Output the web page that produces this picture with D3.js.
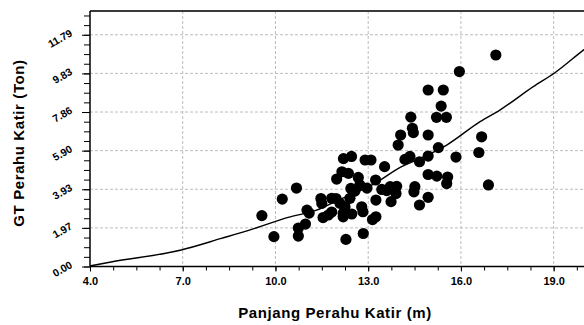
<!DOCTYPE html>
<html>
<head>
<meta charset="utf-8">
<script src="https://cdn.jsdelivr.net/npm/d3@7"></script>
<style>
  html, body { margin: 0; background: #fff; overflow: hidden; }
  svg { display: block; font-family: "Liberation Sans", Arial, sans-serif; }
</style>
</head>
<body>
<svg id="chart" width="584" height="325"></svg>
<script>
// Panjang perahu (m) vs GT (ton)
const lengthM = [17.13, 15.95, 14.94, 15.43, 15.36, 15.21, 15.53, 14.38, 14.43, 14.46,
  14.05, 13.97, 14.94, 15.27, 14.94, 14.66, 14.35, 14.19, 15.84, 16.67,
  16.58, 14.94, 15.22, 15.57, 15.54, 14.51, 14.48, 14.94, 14.66, 16.89,
  13.92, 13.71, 13.60, 13.44, 13.90, 13.74, 13.25, 13.53, 13.24, 12.90,
  13.09, 12.20, 12.46, 12.15, 12.36, 11.98, 12.68, 12.73, 12.96, 12.44,
  12.57, 12.41, 11.96, 12.09, 12.25, 12.19, 12.79, 12.83, 12.47, 12.19,
  11.82, 11.71, 11.54, 11.47, 11.50, 11.82, 11.02, 11.09, 10.68, 10.22,
  9.56, 10.97, 10.74, 10.74, 9.95, 12.28, 12.84, 13.25, 13.14];
const gtTon = [10.76, 9.92, 8.98, 8.98, 8.16, 7.59, 7.59, 7.60, 7.03, 6.81,
  6.69, 6.18, 6.69, 6.05, 5.62, 5.33, 5.60, 5.45, 5.57, 6.60,
  5.80, 4.68, 4.60, 4.55, 4.22, 4.06, 3.80, 3.52, 3.13, 4.15,
  4.08, 4.06, 3.86, 3.92, 3.71, 3.30, 3.38, 5.08, 4.40, 5.42,
  5.42, 5.49, 5.60, 4.82, 4.74, 4.45, 4.53, 4.15, 3.99, 3.97,
  3.84, 3.47, 3.46, 3.21, 3.04, 2.71, 3.04, 2.79, 2.67, 2.53,
  2.77, 2.62, 2.49, 3.46, 3.21, 3.47, 2.87, 2.72, 3.99, 3.43,
  2.59, 2.16, 1.96, 1.55, 1.52, 1.38, 1.68, 2.53, 2.39];

// regression curve
const curveX = [4.0, 4.68, 6.95, 8.25, 9.33, 10.41, 11.33, 11.93, 13.22, 14.08,
  14.57, 15.54, 16.62, 17.26, 18.34, 19.04, 19.96, 20.2];
const curveY = [0.03, 0.23, 0.84, 1.43, 1.94, 2.50, 2.87, 3.30, 4.23, 5.08,
  5.42, 6.18, 7.37, 7.96, 9.15, 9.86, 11.01, 11.3];

const xTicks = [4, 7, 10, 13, 16, 19];
const yTicks = [0, 1.965, 3.93, 5.895, 7.86, 9.825, 11.79];
const yTickLabels = ["0.00", "1.97", "3.93", "5.90", "7.86", "9.83", "11.79"];

const svg = d3.select('#chart');
const plotLeft = 90, plotTop = 11, plotBottom = 266.5, plotRight = 584;

const x = d3.scaleLinear().domain([4, 20.2]).range([plotLeft, plotLeft + 16.2 * 30.91]);
const y = d3.scaleLinear().domain([0, 13]).range([plotBottom, plotTop]);

// grid
const grid = svg.append('g').attr('class', 'grid')
  .attr('stroke', '#bdbdbd').attr('stroke-width', 1).attr('stroke-dasharray', '3,2');
grid.selectAll('line.h').data(yTicks.slice(1)).enter().append('line')
  .attr('x1', plotLeft).attr('x2', plotRight)
  .attr('y1', d => y(d)).attr('y2', d => y(d));
grid.selectAll('line.v').data(xTicks.slice(1)).enter().append('line')
  .attr('x1', d => x(d)).attr('x2', d => x(d))
  .attr('y1', plotTop).attr('y2', plotBottom);

// minor ticks
const xMinor = d3.range(4, 20.3, 0.75);
const yMinor = d3.range(0, 13, 1.965 / 4);

svg.append('g').attr('transform', `translate(0,${plotBottom})`)
  .call(d3.axisBottom(x).tickValues(xMinor).tickSize(4).tickFormat(''))
  .call(g => g.select('.domain').remove())
  .selectAll('line').attr('stroke', '#000');

svg.append('g').attr('transform', `translate(${plotLeft},0)`)
  .call(d3.axisLeft(y).tickValues(yMinor).tickSize(6).tickFormat(''))
  .call(g => g.select('.domain').remove())
  .selectAll('line').attr('stroke', '#000');

// major axes
const xAxis = svg.append('g').attr('transform', `translate(0,${plotBottom})`)
  .call(d3.axisBottom(x).tickValues(xTicks).tickSize(5).tickFormat(d3.format('.1f')));
xAxis.select('.domain').remove();
xAxis.selectAll('text')
  .attr('font-family', '"Liberation Sans", Arial, sans-serif')
  .attr('font-size', 11).attr('font-weight', 'bold').attr('fill', '#000')
  .attr('y', 11);

const yAxis = svg.append('g').attr('transform', `translate(${plotLeft},0)`)
  .call(d3.axisLeft(y).tickValues(yTicks).tickSize(8).tickFormat((d, i) => yTickLabels[i]));
yAxis.select('.domain').remove();
yAxis.selectAll('text')
  .attr('font-family', '"Liberation Sans", Arial, sans-serif')
  .attr('font-size', 10.5).attr('font-weight', 'bold').attr('fill', '#000')
  .attr('text-anchor', 'end')
  .attr('x', -14.7).attr('y', -8.5).attr('dy', 0)
  .attr('transform', 'rotate(-30)');

// frame
svg.append('line').attr('x1', plotLeft).attr('x2', plotRight).attr('y1', plotTop).attr('y2', plotTop)
  .attr('stroke', '#3a3a3a').attr('stroke-width', 2);
svg.append('line').attr('x1', plotLeft).attr('x2', plotLeft).attr('y1', plotTop).attr('y2', plotBottom)
  .attr('stroke', '#000').attr('stroke-width', 1.5);
svg.append('line').attr('x1', plotLeft).attr('x2', plotRight).attr('y1', plotBottom).attr('y2', plotBottom)
  .attr('stroke', '#000').attr('stroke-width', 1.5);

// points
const points = lengthM.map((v, i) => ({ x: v, y: gtTon[i] }));
svg.append('g').selectAll('circle').data(points).enter().append('circle')
  .attr('cx', d => x(d.x)).attr('cy', d => y(d.y))
  .attr('r', 5.6).attr('fill', '#000');

// regression line
const curvePts = curveX.map((v, i) => ({ x: v, y: curveY[i] }));
svg.append('path').datum(curvePts)
  .attr('d', d3.line().x(d => x(d.x)).y(d => y(d.y)).curve(d3.curveMonotoneX))
  .attr('fill', 'none').attr('stroke', '#000').attr('stroke-width', 1.4);

// axis titles
svg.append('text')
  .attr('x', 335).attr('y', 318)
  .attr('text-anchor', 'middle')
  .attr('font-size', 15).attr('font-weight', 'bold').attr('letter-spacing', 0.6)
  .text('Panjang Perahu Katir (m)');

svg.append('text')
  .attr('transform', 'translate(24,143) rotate(-90)')
  .attr('text-anchor', 'middle')
  .attr('font-size', 15).attr('font-weight', 'bold').attr('letter-spacing', 0.6)
  .text('GT Perahu Katir (Ton)');
</script>
</body>
</html>
